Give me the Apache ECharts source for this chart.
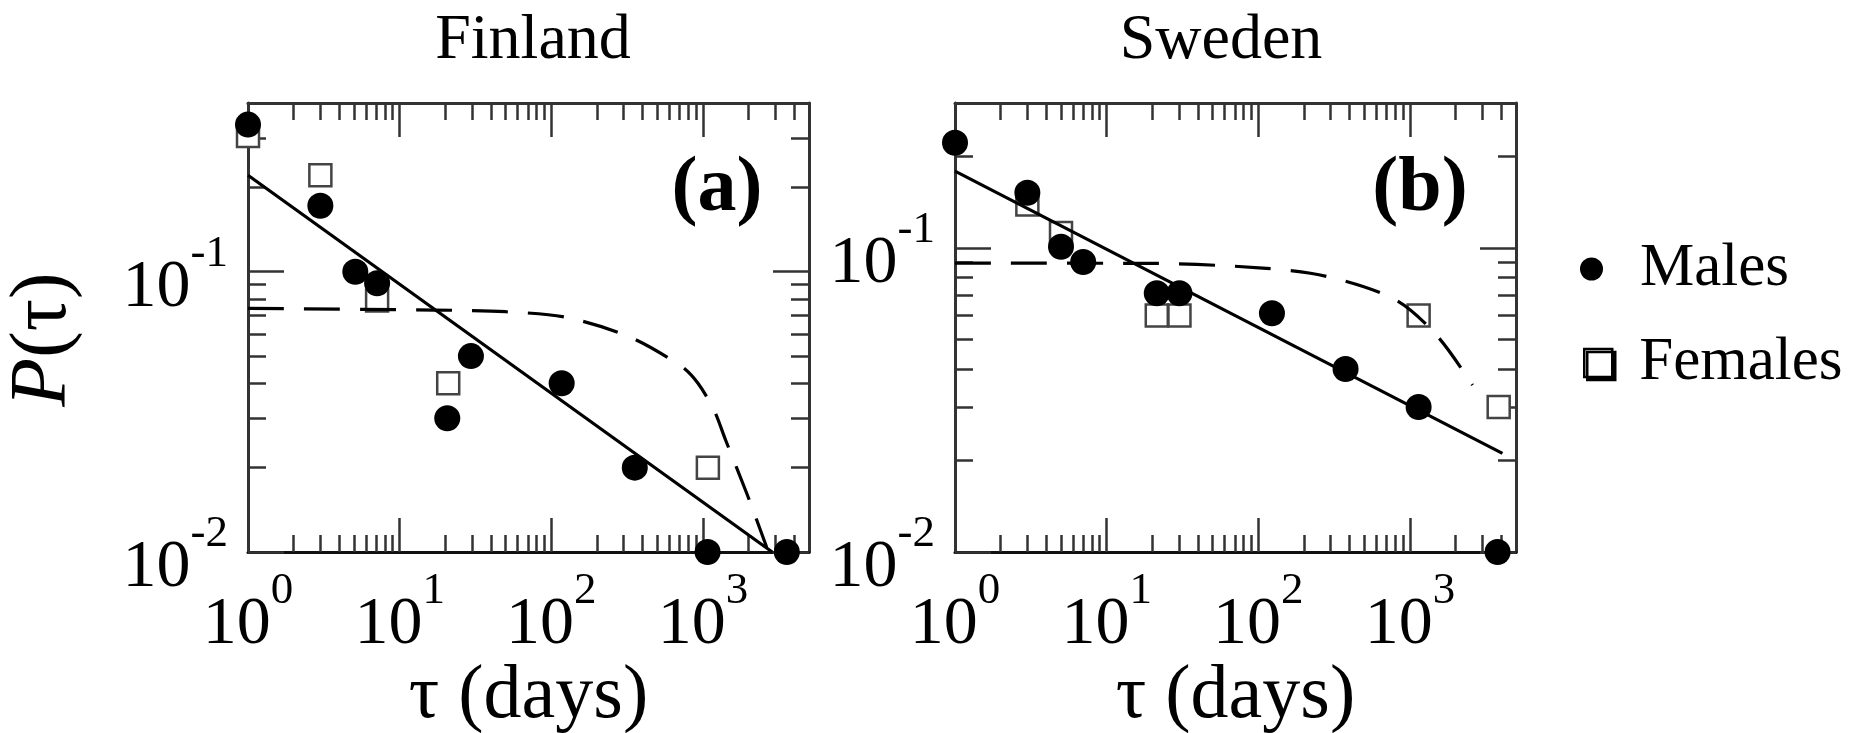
<!DOCTYPE html>
<html>
<head>
<meta charset="utf-8">
<script src="https://cdn.jsdelivr.net/npm/echarts@6/dist/echarts.min.js"></script>
<style>html,body{margin:0;padding:0;background:#fff}#c{width:1863px;height:733px}</style>
</head>
<body>
<div id="c"></div>
<script>
// ---- data ----
const panelTitles = ['Finland', 'Sweden'];
const panelTags = ['(a)', '(b)'];
const xMajorTicks = [1, 10, 100, 1000];
const xMinorTicks = [2,3,4,5,6,7,8,9,20,30,40,50,60,70,80,90,200,300,400,500,600,700,800,900,2000,3000,4000];
const yMajorTicks = [0.01, 0.1];
const yMinorTicks = [0.02,0.03,0.04,0.05,0.06,0.07,0.08,0.09,0.2,0.3];
const xRange = [1, 5000];
const yRangeA = [0.01, 0.4];
const yRangeB = [0.01, 0.3];

// Finland (a)
const tauA_males = [1, 3.0, 5.1, 7.1, 20.6, 29.5, 117, 355, 1072, 3570];
const pA_males   = [0.335, 0.172, 0.100, 0.091, 0.030, 0.050, 0.040, 0.020, 0.010, 0.010];
const tauA_females = [1, 3.0, 7.1, 20.9, 1077];
const pA_females   = [0.305, 0.221, 0.079, 0.040, 0.020];
const tauA_fit = [1, 2860];
const pA_fit   = [0.221, 0.010];
const tauA_dash = [1, 17, 50, 126, 327, 727, 929, 1181, 1409, 1942, 2630];
const pA_dash   = [0.074, 0.073, 0.072, 0.0687, 0.0586, 0.0458, 0.0399, 0.0321, 0.0251, 0.0162, 0.0104];

// Sweden (b)
const tauB_males = [1, 3.0, 5.0, 7.0, 21.4, 30.2, 123, 376, 1140, 3780];
const pB_males   = [0.222, 0.152, 0.101, 0.090, 0.071, 0.071, 0.061, 0.040, 0.030, 0.010];
const tauB_females = [3.0, 5.0, 21.4, 30.2, 1140, 3845];
const pB_females   = [0.139, 0.112, 0.060, 0.060, 0.060, 0.030];
const tauB_fit = [1, 4070];
const pB_fit   = [0.179, 0.0211];
const tauB_dash = [1, 20, 107, 284, 805, 1525, 2583];
const pB_dash   = [0.0892, 0.089, 0.0859, 0.0806, 0.0675, 0.0511, 0.0354];

// ---- chart ----
const FONT = 'Liberation Serif';
const zip = (a, b) => a.map((v, i) => [v, b[i]]);
const rich = {
  b: {fontFamily: FONT, fontSize: 68, lineHeight: 90, color: '#000', verticalAlign: 'bottom'},
  s: {fontFamily: FONT, fontSize: 45, lineHeight: 40, color: '#000', verticalAlign: 'top'}
};
const supFmt = v => '{b|10}{s|' + Math.round(Math.log10(v)) + '}';
const frameColor = '#333';
const tickStyle = {color: '#333', width: 2.5};

const grids = [
  {left: 248, top: 103, width: 561, height: 449, outerBoundsMode: 'none', containLabel: false},
  {left: 955, top: 103, width: 561, height: 449, outerBoundsMode: 'none', containLabel: false}
];
const yRanges = [yRangeA, yRangeB];
const xAxes = [], yAxes = [];
grids.forEach((g, gi) => {
  const baseX = {type: 'log', logBase: 10, min: xRange[0], max: xRange[1], gridIndex: gi, splitLine: {show: false}};
  xAxes.push(Object.assign({}, baseX, {
    position: 'bottom',
    axisLine: {show: true, lineStyle: {color: '#111', width: 3}},
    axisTick: {show: true, inside: true, length: 34, customValues: xMajorTicks, lineStyle: tickStyle},
    axisLabel: {show: true, customValues: xMajorTicks, formatter: supFmt, rich: rich, margin: 17},
    name: 'τ (days)', nameLocation: 'middle', nameGap: 107, nameMoveOverlap: false,
    nameTextStyle: {fontFamily: FONT, fontSize: 76, color: '#000'}
  }));
  xAxes.push(Object.assign({}, baseX, {
    position: 'bottom', axisLine: {show: false},
    axisTick: {show: true, inside: true, length: 17, customValues: xMinorTicks, lineStyle: tickStyle},
    axisLabel: {show: false}
  }));
  xAxes.push(Object.assign({}, baseX, {
    position: 'top',
    axisLine: {show: true, lineStyle: {color: frameColor, width: 3}},
    axisTick: {show: true, inside: true, length: 34, customValues: xMajorTicks, lineStyle: tickStyle},
    axisLabel: {show: false}
  }));
  xAxes.push(Object.assign({}, baseX, {
    position: 'top', axisLine: {show: false},
    axisTick: {show: true, inside: true, length: 17, customValues: xMinorTicks, lineStyle: tickStyle},
    axisLabel: {show: false}
  }));
  const yr = yRanges[gi];
  const baseY = {type: 'log', logBase: 10, min: yr[0], max: yr[1], gridIndex: gi, splitLine: {show: false}};
  const yMain = Object.assign({}, baseY, {
    position: 'left',
    axisLine: {show: true, lineStyle: {color: frameColor, width: 3}},
    axisTick: {show: true, inside: true, length: 36, customValues: yMajorTicks, lineStyle: tickStyle},
    axisLabel: {show: true, customValues: yMajorTicks, formatter: supFmt, rich: rich, margin: 20, padding: [10, 0, 0, 0]}
  });
  if (gi === 0) {
    yMain.name = '{i|P}{n|(τ)}';
    yMain.nameLocation = 'middle';
    yMain.nameGap = 164;
    yMain.nameMoveOverlap = false;
    yMain.nameTextStyle = {padding: [0, 24, 0, 0], rich: {
      i: {fontFamily: FONT, fontSize: 80, fontStyle: 'italic', color: '#000'},
      n: {fontFamily: FONT, fontSize: 80, color: '#000'}
    }};
  }
  yAxes.push(yMain);
  yAxes.push(Object.assign({}, baseY, {
    position: 'left', axisLine: {show: false},
    axisTick: {show: true, inside: true, length: 18, customValues: yMinorTicks, lineStyle: tickStyle},
    axisLabel: {show: false}
  }));
  yAxes.push(Object.assign({}, baseY, {
    position: 'right',
    axisLine: {show: true, lineStyle: {color: frameColor, width: 3}},
    axisTick: {show: true, inside: true, length: 36, customValues: yMajorTicks, lineStyle: tickStyle},
    axisLabel: {show: false}
  }));
  yAxes.push(Object.assign({}, baseY, {
    position: 'right', axisLine: {show: false},
    axisTick: {show: true, inside: true, length: 18, customValues: yMinorTicks, lineStyle: tickStyle},
    axisLabel: {show: false}
  }));
});

const panels = [
  {m: zip(tauA_males, pA_males), f: zip(tauA_females, pA_females), fit: zip(tauA_fit, pA_fit), dash: zip(tauA_dash, pA_dash)},
  {m: zip(tauB_males, pB_males), f: zip(tauB_females, pB_females), fit: zip(tauB_fit, pB_fit), dash: zip(tauB_dash, pB_dash)}
];
const series = [];
panels.forEach((p, gi) => {
  const ax = {xAxisIndex: gi * 4, yAxisIndex: gi * 4};
  series.push(Object.assign({type: 'scatter', name: 'Females', data: p.f, symbol: 'rect', symbolSize: 22,
    itemStyle: {color: '#fff', borderColor: '#444', borderWidth: 2.5, opacity: 1}, z: 2, clip: false}, ax));
  series.push(Object.assign({type: 'line', name: 'fit', data: p.fit, showSymbol: false, symbol: 'none',
    lineStyle: {color: '#000', width: 3.2}, z: 3, silent: true, clip: false}, ax));
  series.push(Object.assign({type: 'line', name: 'model', data: p.dash, showSymbol: false, symbol: 'none', smooth: 0.3,
    lineStyle: {color: '#000', width: 3.2, type: [36, 20]}, z: 3, silent: true, clip: false}, ax));
  series.push(Object.assign({type: 'scatter', name: 'Males', data: p.m, symbol: 'circle', symbolSize: 26,
    itemStyle: {color: '#000', opacity: 1}, z: 4, clip: false}, ax));
});

const titles = [
  {text: panelTitles[0], left: 528, top: 4, textAlign: 'center', textStyle: {fontFamily: FONT, fontSize: 64, fontWeight: 'normal', color: '#000'}},
  {text: panelTitles[1], left: 1216, top: 4, textAlign: 'center', textStyle: {fontFamily: FONT, fontSize: 64, fontWeight: 'normal', color: '#000'}},
  {text: panelTags[0], left: 712, top: 146, textAlign: 'center', textStyle: {fontFamily: FONT, fontSize: 78, fontWeight: 'bold', color: '#000'}},
  {text: panelTags[1], left: 1415, top: 146, textAlign: 'center', textStyle: {fontFamily: FONT, fontSize: 78, fontWeight: 'bold', color: '#000'}}
];

const legendText = {fontFamily: FONT, fontSize: 61, lineHeight: 62, color: '#000'};
const chart = echarts.init(document.getElementById('c'), null, {renderer: 'canvas'});
chart.setOption({
  animation: false,
  backgroundColor: '#fff',
  title: titles,
  grid: grids,
  xAxis: xAxes,
  yAxis: yAxes,
  legend: [
    {
      orient: 'vertical', left: 1580, top: 224, padding: 0, itemWidth: 23, itemHeight: 23, selectedMode: false,
      textStyle: Object.assign({padding: [28, 0, 0, 32]}, legendText),
      data: [{name: 'Males', icon: 'circle', itemStyle: {color: '#000', borderWidth: 0, opacity: 1}}]
    },
    {
      orient: 'vertical', left: 1583, top: 328, padding: 0, itemWidth: 28, itemHeight: 28, selectedMode: false,
      textStyle: Object.assign({padding: [8, 0, 0, 22]}, legendText),
      data: [{name: 'Females', icon: 'rect', itemStyle: {color: '#fff', borderColor: '#000', borderWidth: 2.5, opacity: 1,
        shadowColor: '#000', shadowOffsetX: 3, shadowOffsetY: 3, shadowBlur: 0}}]
    }
  ],
  series: series
});
</script>
</body>
</html>
